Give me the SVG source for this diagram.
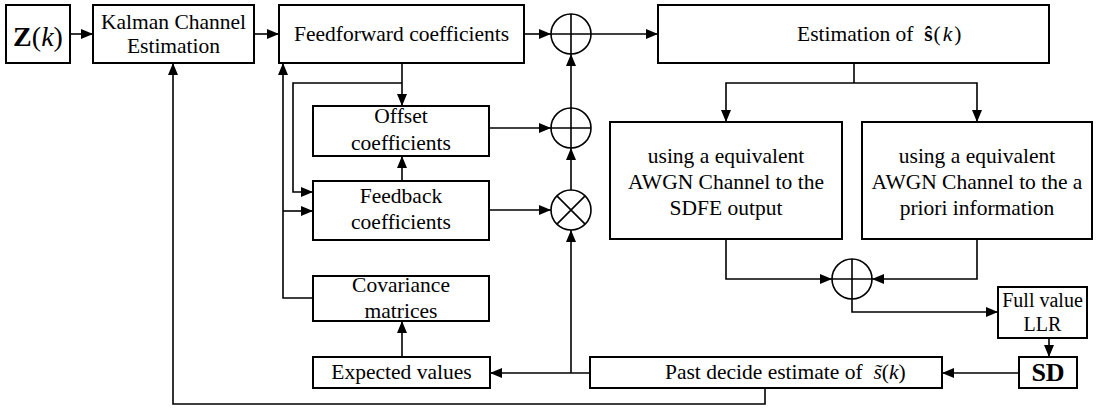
<svg xmlns="http://www.w3.org/2000/svg" width="1097" height="408" viewBox="0 0 1097 408" font-family="'Liberation Serif', 'Times New Roman', Times, serif">
<style>
.box{fill:#fff;stroke:#000;stroke-width:2}
.ln{fill:none;stroke:#000;stroke-width:1.6}
.arr{fill:none;stroke:#000;stroke-width:1.6;marker-end:url(#ah)}
.op{fill:#fff;stroke:#000;stroke-width:1.6}
text{font-family:'Liberation Serif','Times New Roman',Times,serif;font-size:21.5px;fill:#000}
.c{text-anchor:middle}
</style>
<defs>
<marker id="ah" markerUnits="userSpaceOnUse" markerWidth="13" markerHeight="10" refX="12" refY="5" orient="auto">
<path d="M0,0 L12,5 L0,10 z" fill="#000"/>
</marker>
</defs>
<rect width="1097" height="408" fill="#fff"/>
<g id="connectors">
<path class="arr" d="M70,34 H93"/>
<path class="arr" d="M254,34 H279"/>
<path class="arr" d="M524,34 H551"/>
<path class="arr" d="M591,34 H658"/>
<path class="ln" d="M854,63 V83"/>
<path class="arr" d="M854,83 H726 V122"/>
<path class="arr" d="M854,83 H977 V122"/>
<path class="arr" d="M726,239 V279 H832"/>
<path class="arr" d="M977,239 V279 H872"/>
<path class="arr" d="M852,299 V312 H998"/>
<path class="arr" d="M1049,338 V357"/>
<path class="arr" d="M1019,373 H942"/>
<path class="arr" d="M590,373 H490"/>
<path class="arr" d="M571,373 V230"/>
<path class="arr" d="M571,190 V148"/>
<path class="arr" d="M571,108 V54"/>
<path class="arr" d="M489,128 H551"/>
<path class="arr" d="M489,210 H551"/>
<path class="arr" d="M402,181 V156"/>
<path class="arr" d="M402,63 V106"/>
<path class="arr" d="M402,83 H293 V192 H313"/>
<path class="arr" d="M313,298 H283 V63"/>
<path class="arr" d="M283,211 H313"/>
<path class="arr" d="M402,357 V321"/>
<path class="arr" d="M765,388 V404 H173 V63"/>
</g>
<g id="zk">
<rect class="box" x="6" y="5" width="64" height="58"/>
<text x="38" y="46" class="c" style="font-size:28px"><tspan font-weight="bold">Z</tspan>(<tspan font-style="italic">k</tspan>)</text>
</g>
<g id="kalman">
<rect class="box" x="93" y="5" width="161" height="58"/>
<text x="173.5" y="29" class="c">Kalman Channel</text>
<text x="173.5" y="53" class="c">Estimation</text>
</g>
<g id="feedforward">
<rect class="box" x="279" y="5" width="245" height="58"/>
<text x="401.5" y="41" class="c">Feedforward coefficients</text>
</g>
<g id="sum1">
<circle class="op" cx="571" cy="34" r="20"/>
<path class="ln" d="M551,34 H591 M571,14 V54"/>
</g>
<g id="estimation">
<rect class="box" x="658" y="5" width="391" height="58"/>
<text x="797" y="41" xml:space="preserve">Estimation of  <tspan font-weight="bold">ŝ</tspan><tspan dx="1">(</tspan><tspan dx="2" font-style="italic">k</tspan><tspan dx="2">)</tspan></text>
</g>
<g id="offset">
<rect class="box" x="313" y="106" width="176" height="50"/>
<text x="401" y="123" class="c">Offset</text>
<text x="401" y="150" class="c">coefficients</text>
</g>
<g id="sum2">
<circle class="op" cx="571" cy="128" r="20"/>
<path class="ln" d="M551,128 H591 M571,108 V148"/>
</g>
<g id="feedback">
<rect class="box" x="313" y="181" width="176" height="59"/>
<text x="401" y="203" class="c">Feedback</text>
<text x="401" y="229" class="c">coefficients</text>
</g>
<g id="mult">
<circle class="op" cx="571" cy="210" r="20"/>
<path class="ln" d="M556.9,195.9 L585.1,224.1 M585.1,195.9 L556.9,224.1"/>
</g>
<g id="awgn1">
<rect class="box" x="610" y="122" width="232" height="117"/>
<text x="726" y="163" class="c">using a equivalent</text>
<text x="726" y="189" class="c">AWGN Channel to the</text>
<text x="726" y="215" class="c">SDFE output</text>
</g>
<g id="awgn2">
<rect class="box" x="862" y="122" width="230" height="117"/>
<text x="977" y="163" class="c">using a equivalent</text>
<text x="977" y="189" class="c">AWGN Channel to the a</text>
<text x="977" y="215" class="c">priori information</text>
</g>
<g id="sum3">
<circle class="op" cx="852" cy="279" r="20"/>
<path class="ln" d="M832,279 H872 M852,259 V299"/>
</g>
<g id="fullvalue">
<rect class="box" x="998" y="287" width="89" height="51"/>
<text x="1042.5" y="307" class="c" style="font-size:20px">Full value</text>
<text x="1042.5" y="331" class="c" style="font-size:20px">LLR</text>
</g>
<g id="sd">
<rect class="box" x="1019" y="357" width="58" height="31"/>
<text x="1048" y="381" class="c" style="font-size:26px;font-weight:bold">SD</text>
</g>
<g id="pastdecide">
<rect class="box" x="590" y="357" width="352" height="31"/>
<text x="665" y="379" xml:space="preserve">Past decide estimate of  <tspan font-style="italic">s̃</tspan>(<tspan font-style="italic">k</tspan>)</text>
</g>
<g id="covariance">
<rect class="box" x="313" y="276" width="176" height="45"/>
<text x="401" y="292" class="c">Covariance</text>
<text x="401" y="318" class="c">matrices</text>
</g>
<g id="expected">
<rect class="box" x="313" y="357" width="177" height="31"/>
<text x="401.5" y="379" class="c">Expected values</text>
</g>
</svg>
